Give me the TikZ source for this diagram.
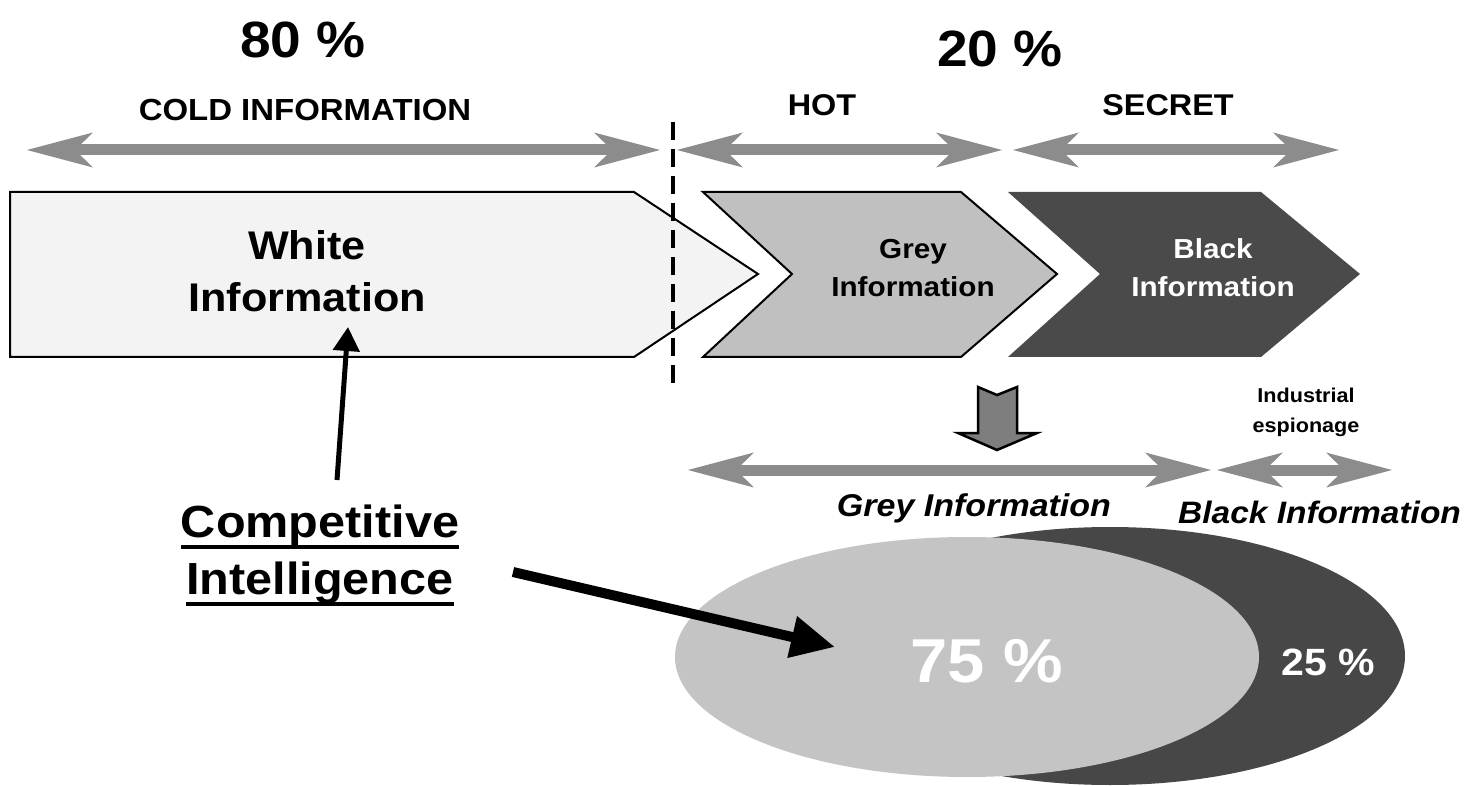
\documentclass[tikz,border=0pt]{standalone}
\usepackage{fontspec}
\setmainfont{Liberation Sans}[FakeStretch=1.08]
\usetikzlibrary{arrows.meta,shapes.geometric}
\definecolor{arrgrey}{HTML}{8C8C8C}
\definecolor{boxwhite}{HTML}{F3F3F3}
\definecolor{boxgrey}{HTML}{C0C0C0}
\definecolor{boxdark}{HTML}{4A4A4A}
\definecolor{ellgrey}{HTML}{C4C4C4}
\definecolor{elldark}{HTML}{474747}
\definecolor{downgrey}{HTML}{7E7E7E}
\newcommand{\setfs}[2]{\fontsize{#1pt}{#2pt}\selectfont}
\newcommand{\myul}[1]{\leavevmode\setbox0=\hbox{#1}\rlap{\rule[-11.5pt]{\wd0}{3.5pt}}\box0}
\begin{document}
\begin{tikzpicture}[x=1pt,y=-1pt,
  lbl/.style={inner sep=0pt, align=center},
  garrow/.style={draw=arrgrey, line width=11pt,
    arrows={Stealth[length=66pt,width=35pt,inset=18pt,line width=0pt]-Stealth[length=66pt,width=35pt,inset=18pt,line width=0pt]}},
  chev/.style={line width=2pt, line join=miter},
]
\useasboundingbox (0,0) rectangle (1468,786);
\fill[white] (0,0) rectangle (1468,786);

% headings
\node[lbl, font=\bfseries\setfs{51}{60}] (p80) at (303,40) {80 \%};
\node[lbl, font=\bfseries\setfs{51}{60}] (p20) at (1000,49) {20 \%};
\node[lbl, font=\bfseries\setfs{30.5}{36}] (cold) at (305,110) {COLD INFORMATION};
\node[lbl, font=\bfseries\setfs{30}{36}] (hot) at (822,105) {HOT};
\node[lbl, font=\bfseries\setfs{30}{36}] (secret) at (1168,105) {SECRET};

% top grey double arrows
\coordinate (a1l) at (27,150);  \coordinate (a1r) at (660,150);
\coordinate (a2l) at (677,150); \coordinate (a2r) at (1002,150);
\coordinate (a3l) at (1013,150);\coordinate (a3r) at (1339,150);
\draw[garrow] (a1l) -- (a1r);
\draw[garrow] (a2l) -- (a2r);
\draw[garrow] (a3l) -- (a3r);

% chevrons
\draw[chev, fill=boxwhite] (10,192) -- (634,192) -- (758,274) -- (634,357) -- (10,357) -- cycle;
\draw[chev, fill=boxgrey] (703,192) -- (961,192) -- (1057,274) -- (961,357) -- (703,357) -- (792,274) -- cycle;
\fill[boxdark] (1008,192) -- (1261,192) -- (1360,274) -- (1261,357) -- (1008,357) -- (1100,274) -- cycle;

% dashed separator
\coordinate (dtop) at (673,122); \coordinate (dbot) at (673,388);
\draw[line width=3.5pt, dash pattern=on 18pt off 9pt] (dtop) -- (dbot);

\node[lbl, font=\bfseries\setfs{40}{52}] (white) at (307,271) {White\\Information};
\node[lbl, font=\bfseries\setfs{27.5}{38}] (grey) at (913,268) {Grey\\Information};
\node[lbl, font=\bfseries\setfs{27.5}{38}, text=white] (black) at (1213,268) {Black\\Information};

% down block arrow
\draw[line width=2.5pt, fill=downgrey, line join=miter] (978,387) -- (997,395) -- (1017,387) -- (1017,433) -- (1037,433) -- (997,450) -- (958,433) -- (978,433) -- cycle;

% lower grey arrows
\coordinate (b1l) at (688,470); \coordinate (b1r) at (1211,470);
\coordinate (b2l) at (1217,470); \coordinate (b2r) at (1392,470);
\draw[garrow] (b1l) -- (b1r);
\draw[garrow] (b2l) -- (b2r);

\node[lbl, font=\bfseries\setfs{20}{30}] (indesp) at (1306,412) {Industrial\\espionage};
\node[lbl, font=\bfseries\itshape\setfs{31.5}{36}] (greyinf) at (974,508) {Grey Information};
\node[lbl, font=\bfseries\itshape\setfs{31}{36}, anchor=west] (blackinf) at (1178,512) {Black Information};

% ellipses
\node[ellipse, fill=elldark, inner sep=0pt, minimum width=590pt, minimum height=258pt] (edark) at (1110,656) {};
\node[ellipse, fill=ellgrey, inner sep=0pt, minimum width=584pt, minimum height=240pt] (egrey) at (967,657) {};
\node[lbl, font=\bfseries\setfs{62}{70}, text=white] (p75) at (987,661) {75 \%};
\node[lbl, font=\bfseries\setfs{38}{44}, text=white] (p25) at (1328,662) {25 \%};

% competitive intelligence
\node[lbl, font=\bfseries\setfs{45}{57}] (ci) at (320,555) {\myul{Competitive}\\\myul{Intelligence}};

\coordinate (upstart) at (337,480); \coordinate (uptip) at (348,327);
\draw[line width=5pt, -{Triangle[length=24pt,width=26pt]}] (upstart) -- (uptip);
\coordinate (dgstart) at (513,572); \coordinate (dgtip) at (835,647);
\draw[line width=10pt, -{Triangle[length=44pt,width=40pt]}] (dgstart) -- (dgtip);
\end{tikzpicture}
\end{document}
